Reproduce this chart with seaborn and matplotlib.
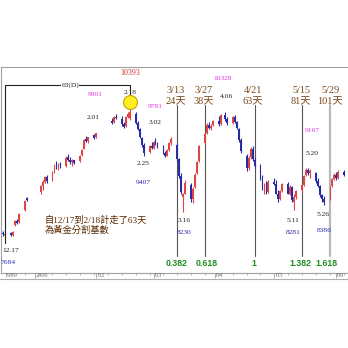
import matplotlib
matplotlib.use("Agg")
import matplotlib.pyplot as plt
import matplotlib.dates as mdates
from matplotlib.lines import Line2D
import pandas as pd
import seaborn as sns

# ---------------- data ----------------
dates = [
    "1999-12-15", "1999-12-16", "1999-12-17", "1999-12-20", "1999-12-21", "1999-12-22",
    "1999-12-23", "1999-12-24", "1999-12-27", "1999-12-28",
    "2000-01-04", "2000-01-05", "2000-01-06", "2000-01-07",
    "2000-01-10", "2000-01-11", "2000-01-12", "2000-01-13", "2000-01-14",
    "2000-01-17", "2000-01-18", "2000-01-19", "2000-01-20", "2000-01-21",
    "2000-01-24", "2000-01-25", "2000-01-26", "2000-01-27", "2000-01-28",
    "2000-01-31", "2000-02-01",
    "2000-02-09", "2000-02-10", "2000-02-11",
    "2000-02-14", "2000-02-15", "2000-02-16", "2000-02-17", "2000-02-18",
    "2000-02-21", "2000-02-22", "2000-02-23", "2000-02-24", "2000-02-25",
    "2000-02-28", "2000-02-29", "2000-03-01", "2000-03-02", "2000-03-03",
    "2000-03-06", "2000-03-07", "2000-03-08", "2000-03-09", "2000-03-10",
    "2000-03-13", "2000-03-14", "2000-03-15", "2000-03-16", "2000-03-17",
    "2000-03-20", "2000-03-21", "2000-03-22", "2000-03-23", "2000-03-24",
    "2000-03-27", "2000-03-28", "2000-03-29", "2000-03-30", "2000-03-31",
    "2000-04-03", "2000-04-04", "2000-04-06", "2000-04-07",
    "2000-04-10", "2000-04-11", "2000-04-12", "2000-04-13", "2000-04-14",
    "2000-04-17", "2000-04-18", "2000-04-19", "2000-04-20", "2000-04-21",
    "2000-04-24", "2000-04-25", "2000-04-26", "2000-04-27", "2000-04-28",
    "2000-05-01", "2000-05-02", "2000-05-03", "2000-05-04", "2000-05-05",
    "2000-05-08", "2000-05-09", "2000-05-10", "2000-05-11", "2000-05-12",
    "2000-05-15", "2000-05-16", "2000-05-17", "2000-05-18", "2000-05-19",
    "2000-05-22", "2000-05-23", "2000-05-24", "2000-05-25", "2000-05-26",
    "2000-05-29", "2000-05-30", "2000-05-31", "2000-06-01", "2000-06-02", "2000-06-05",
]
opens = [
    7850, 7790, 7740, 7780, 7740, 7950, 8050, 8020, 8280, 8530,
    8650, 8780, 8870, 8960,
    8900, 9080, 9240, 9150, 9230,
    9200, 9380, 9320, 9280, 9320,
    9300, 9430, 9560, 9760, 9720,
    9850, 9820,
    10150, 10120, 10240,
    10180, 10080, 10040, 10230, 10200,
    10300, 10100, 9980, 9790, 9640,
    9500, 9620, 9580, 9700, 9660,
    9600, 9480, 9420, 9540, 9680,
    9650, 9340, 8990, 8550, 8620,
    8800, 8500, 8750, 9050, 9300,
    9680, 9900, 10060, 10000, 10060,
    10150, 10080, 10280, 10180,
    10100, 10230, 10120, 9980, 9740,
    9400, 9150, 9380, 9560, 9330,
    9200, 8950, 8750, 8800, 8650,
    8870, 8830, 8620, 8500, 8680,
    8820, 8620, 8760, 8450, 8550,
    8700, 8800, 9000, 9120, 9050,
    9050, 8880, 8780, 8580, 8500,
    8500, 8780, 8920, 9020, 8950, 9080,
]
highs = [
    7880, 7830, 7800, 7820, 7830, 8060, 8080, 8200, 8490, 8540,
    8800, 8900, 8980, 9000,
    9100, 9250, 9300, 9260, 9290,
    9400, 9450, 9380, 9350, 9330,
    9430, 9560, 9770, 9830, 9820,
    9880, 9901,
    10220, 10260, 10300,
    10250, 10120, 10250, 10330, 10393,
    10340, 10150, 10000, 9820, 9680,
    9650, 9700, 9720, 9781, 9700,
    9640, 9520, 9560, 9700, 9800,
    9680, 9360, 9050, 8640, 8900,
    8850, 8750, 9050, 9300, 9640,
    9900, 10100, 10120, 10080, 10160,
    10250, 10300, 10328, 10230,
    10250, 10280, 10150, 10000, 9780,
    9450, 9400, 9600, 9620, 9380,
    9250, 9000, 8850, 8880, 8900,
    8950, 8900, 8700, 8700, 8850,
    8860, 8800, 8780, 8600, 8700,
    8850, 9000, 9150, 9167, 9130,
    9080, 8950, 8800, 8620, 8560,
    8780, 8950, 9050, 9080, 9120, 9110,
]
lows = [
    7760, 7720, 7684, 7720, 7730, 7930, 7980, 8010, 8260, 8470,
    8620, 8700, 8850, 8850,
    8890, 9060, 9130, 9120, 9150,
    9180, 9300, 9250, 9200, 9240,
    9290, 9410, 9550, 9700, 9690,
    9760, 9790,
    10080, 10100, 10180,
    10050, 9990, 10030, 10200, 10170,
    10080, 9950, 9780, 9600, 9407,
    9480, 9560, 9560, 9640, 9580,
    9450, 9380, 9400, 9520, 9640,
    9300, 8950, 8600, 8230, 8600,
    8450, 8420, 8730, 9030, 9280,
    9660, 9880, 9980, 9950, 10040,
    10050, 10060, 10150, 10070,
    10080, 10100, 9980, 9700, 9480,
    9100, 9120, 9350, 9300, 9150,
    8900, 8700, 8600, 8620, 8630,
    8800, 8600, 8450, 8480, 8650,
    8600, 8580, 8450, 8281, 8500,
    8650, 8780, 8980, 9000, 8950,
    8850, 8750, 8550, 8450, 8386,
    8480, 8760, 8900, 8900, 8930, 8980,
]
closes = [
    7790, 7760, 7770, 7740, 7810, 8040, 8000, 8180, 8470, 8490,
    8780, 8860, 8960, 8880,
    9080, 9230, 9150, 9230, 9170,
    9370, 9320, 9280, 9330, 9260,
    9420, 9540, 9750, 9720, 9800,
    9790, 9890,
    10110, 10230, 10200,
    10080, 10020, 10230, 10300, 10340,
    10100, 9980, 9800, 9640, 9480,
    9620, 9580, 9700, 9660, 9620,
    9480, 9420, 9540, 9680, 9760,
    9340, 8990, 8650, 8600, 8850,
    8500, 8720, 9020, 9280, 9620,
    9880, 10060, 10000, 10050, 10140,
    10080, 10280, 10180, 10100,
    10230, 10120, 10000, 9740, 9520,
    9150, 9370, 9560, 9340, 9200,
    8950, 8750, 8800, 8650, 8870,
    8830, 8620, 8500, 8680, 8820,
    8620, 8760, 8480, 8550, 8680,
    8800, 8980, 9120, 9050, 9100,
    8880, 8780, 8580, 8500, 8450,
    8750, 8920, 9020, 8950, 9080, 9000,
]

# markers / annotation data
base_start = "1999-12-17"
base_end = "2000-02-18"
base_days = "63(D)"
fib_dates = ["2000-03-13", "2000-03-27", "2000-04-21", "2000-05-15", "2000-05-29"]
fib_titles = ["3/13", "3/27", "4/21", "5/15", "5/29"]
fib_days = ["24天", "38天", "63天", "81天", "101天"]
fib_ratios = ["0.382", "0.618", "1", "1.382", "1.618"]
month_labels = ["1999", "2000", "'02", "'03", "'04", "'05", "'06"]
month_dates = ["1999-12-16", "2000-01-01", "2000-02-01", "2000-03-01",
               "2000-04-01", "2000-05-01", "2000-06-01"]
note_lines = ["自12/17到2/18計走了63天", "為黃金分割基數"]

# ---------------- figure ----------------
sns.set_theme(style="white")
plt.rcParams["font.family"] = ["Liberation Serif", "Noto Sans CJK TC", "DejaVu Sans"]

W = H = 348
fig = plt.figure(figsize=(W / 100, H / 100), dpi=100)
fig.patch.set_facecolor("white")
ax_top, ax_bot = 67, 273
ax = fig.add_axes([1 / W, 1 - ax_bot / H, (W - 1) / W, (ax_bot - ax_top) / H])
ax.set_facecolor("white")

df = pd.DataFrame({"date": pd.to_datetime(dates), "open": opens, "high": highs,
                   "low": lows, "close": closes})
df["up"] = df["close"] >= df["open"]
RED, BLUE = "#e04545", "#2a2aa8"
colors = [RED if u else BLUE for u in df["up"]]

ax.vlines(df["date"], df["low"], df["high"], colors=colors, lw=0.8)
body_lo = df[["open", "close"]].min(axis=1)
body_h = (df["close"] - df["open"]).abs().clip(lower=15)
ax.bar(df["date"], body_h, bottom=body_lo, width=0.9, color=colors, linewidth=0)

t0 = pd.Timestamp(base_start)
ax.set_xlim(t0 - pd.Timedelta(days=2.0), t0 + pd.Timedelta(days=173.2))
ax.set_ylim(6947, 11284)


def fy(py):
    return (ax_bot - py) / (ax_bot - ax_top)


# highlight circle at 2/18 high
peak = df.loc[df["date"] == pd.Timestamp(base_end)]
sns.scatterplot(x=peak["date"], y=peak["high"] + 150, ax=ax, s=100, color="#ffee22",
                edgecolor="#c8a400", linewidth=0.8, zorder=5, legend=False)

# bracket
bx = [pd.Timestamp(base_start), pd.Timestamp(base_start), pd.Timestamp(base_end), pd.Timestamp(base_end)]
by = [fy(243), fy(85), fy(85), fy(98)]
ax.plot(bx, by, color="#222222", lw=0.8, transform=ax.get_xaxis_transform(), zorder=4)

# fib vertical lines
for i, d in enumerate(fib_dates):
    col = "#b8b8b8" if i == len(fib_dates) - 1 else "#555555"
    lw = 1.6 if i == len(fib_dates) - 1 else 0.8
    ax.axvline(pd.Timestamp(d), ymin=fy(256), ymax=fy(105), color=col, lw=lw, zorder=1)

# spines / ticks
ax.spines["right"].set_visible(False)
for s in ["top", "left", "bottom"]:
    ax.spines[s].set_color("#a0a0a0")
    ax.spines[s].set_linewidth(0.8)
ax.set_yticks([])
ax.set_xticks(pd.to_datetime(month_dates[1:]))
ax.set_xticklabels([])
ax.xaxis.set_minor_locator(mdates.WeekdayLocator(byweekday=mdates.MO))
ax.tick_params(axis="x", which="major", direction="out", length=3.6, width=0.6,
               color="#a0a0a0", bottom=True)
ax.tick_params(axis="x", which="minor", direction="out", length=1.5, width=0.6,
               color="#a0a0a0", bottom=True)
ax.set_xlabel("")
ax.set_ylabel("")

for lab, d in zip(month_labels, month_dates):
    ax.text(pd.Timestamp(d) + pd.Timedelta(days=0.6), fy(275.8), lab,
            transform=ax.get_xaxis_transform(), ha="left", va="center",
            fontsize=4.6, color="#707070", clip_on=False)

fig.add_artist(Line2D([0, 1], [1 - 278.5 / H] * 2, color="#b0b0b0", lw=0.8))


# ---------------- texts ----------------
def ftxt(px, py, s, color="#222222", size=5.4, **kw):
    fig.text(px / W, 1 - py / H, s, ha=kw.pop("ha", "center"), va="center",
             color=color, fontsize=size, **kw)


MAG, DBLUE, DRED = "#dd33dd", "#2a2ab0", "#d03030"
ftxt(130, 73, "10393", DRED, size=5.8)
ftxt(70, 85, base_days, "#222222", bbox=dict(facecolor="white", edgecolor="none", pad=0.3))
ftxt(95, 95, "9901", MAG)
ftxt(130, 93, "2.18")
ftxt(93, 117, "2.01")
ftxt(155, 106, "9781", MAG)
ftxt(155, 122, "3.02")
ftxt(143, 163, "2.25")
ftxt(143, 182, "9407", DBLUE)
ftxt(223, 79, "10328", MAG)
ftxt(226, 96, "4.06")
ftxt(312, 131, "9167", MAG)
ftxt(312, 153, "5.20")
ftxt(184, 220, "3.16")
ftxt(184, 232, "8230", DBLUE)
ftxt(293, 220, "5.11")
ftxt(293, 232, "8281", DBLUE)
ftxt(323, 215, "5.26")
ftxt(324, 230, "8386", DBLUE)
ftxt(2, 251, "12.17", ha="left")
ftxt(1, 263, "7684", DBLUE, ha="left")

BROWN = "#7a4a1a"
fib_x = [176, 204, 253, 301, 330]
for x, t, dd in zip(fib_x, fib_titles, fib_days):
    ftxt(x, 90.5, t, BROWN, size=7.4)
    ftxt(x, 101.5, dd, BROWN, size=7.4)
fib_rx = [177, 207, 254, 300, 327]
for x, r in zip(fib_rx, fib_ratios):
    ftxt(x, 264, r, "#1e8c1e", size=6.3, fontweight="bold", family=["Liberation Sans"])

ftxt(45, 220, note_lines[0], "#5a2a00", size=6.7, ha="left")
ftxt(45, 230.5, note_lines[1], "#5a2a00", size=6.7, ha="left")

fig.savefig("out.png", dpi=100, facecolor="white")
